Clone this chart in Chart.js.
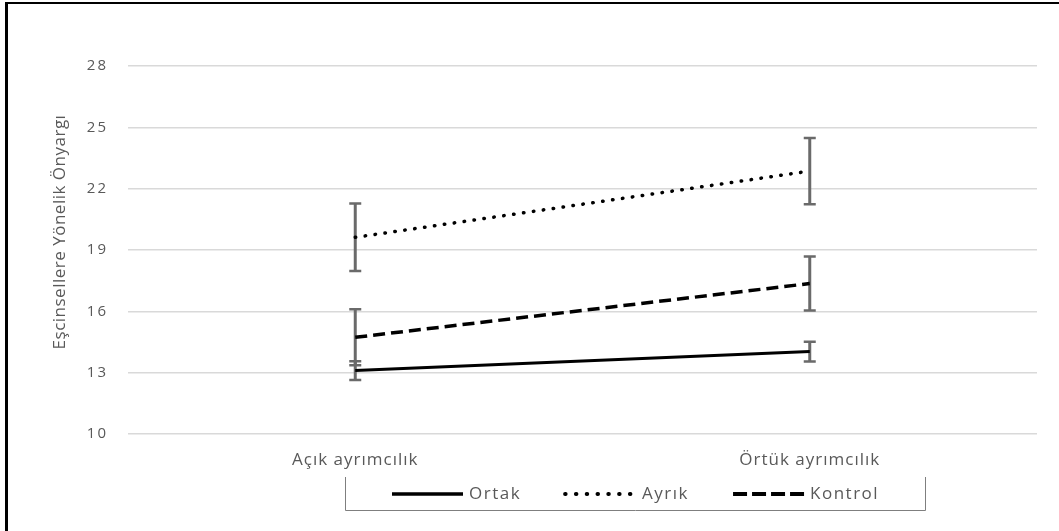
<!DOCTYPE html>
<html><head><meta charset="utf-8">
<script src="https://cdn.jsdelivr.net/npm/chart.js@4"></script>
<style>
html,body{margin:0;padding:0;background:#fff;overflow:hidden;}
#wrap{position:relative;width:1059px;height:531px;overflow:hidden;}
#frame{position:absolute;left:5px;top:2px;width:1100px;height:600px;border-left:3px solid #000;border-top:2px solid #000;pointer-events:none;}
canvas{position:absolute;left:0;top:0;}
</style></head><body>
<div id="wrap"><canvas id="c" width="1059" height="531"></canvas><div id="frame"></div></div>
<script>
const categories = ['Açık ayrımcılık', 'Örtük ayrımcılık'];
const yTicks = [10, 13, 16, 19, 22, 25, 28];
const yTitle = 'Eşcinsellere Yönelik Önyargı';
const seriesNames = ['Ortak', 'Ayrık', 'Kontrol'];
const ortak = [13.1, 14.03];
const ortakErr = [0.46, 0.48];
const ayrik = [19.62, 22.86];
const ayrikErr = [1.65, 1.62];
const kontrol = [14.73, 17.36];
const kontrolErr = [1.37, 1.32];

const FONT = "'Open Sans', 'Noto Sans', sans-serif";
const TXT = '#595959';

const errorBars = {
  id: 'errorBars',
  beforeDatasetsDraw(chart) {
    const ctx = chart.ctx, y = chart.scales.y;
    ctx.save();
    ctx.strokeStyle = '#6a6a6a';
    chart.data.datasets.forEach((ds, di) => {
      const meta = chart.getDatasetMeta(di);
      ds.errors.forEach((e, i) => {
        const x = meta.data[i].x;
        const top = y.getPixelForValue(ds.data[i] + e);
        const bot = y.getPixelForValue(ds.data[i] - e);
        ctx.lineWidth = 3;
        ctx.beginPath(); ctx.moveTo(x, top); ctx.lineTo(x, bot); ctx.stroke();
        ctx.lineWidth = 2.5;
        ctx.beginPath();
        ctx.moveTo(x - 6, top); ctx.lineTo(x + 6, top);
        ctx.moveTo(x - 6, bot); ctx.lineTo(x + 6, bot);
        ctx.stroke();
      });
    });
    ctx.restore();
  }
};

function spaced(scale, px) {
  if (scale._spaced) return;
  const orig = scale.drawLabels.bind(scale);
  scale.drawLabels = function (ca) {
    const ctx = scale.ctx;
    const prev = ctx.letterSpacing;
    ctx.letterSpacing = px;
    orig(ca);
    ctx.letterSpacing = prev || '0px';
  };
  scale._spaced = true;
}

const spacing = {
  id: 'spacing',
  afterLayout(chart) {
    spaced(chart.scales.x, '1px');
    spaced(chart.scales.y, '2px');
  }
};

const extras = {
  id: 'extras',
  afterDraw(chart) {
    const ctx = chart.ctx;
    ctx.save();
    ctx.translate(60, 232);
    ctx.rotate(-Math.PI / 2);
    ctx.fillStyle = TXT;
    ctx.font = '17px ' + FONT;
    ctx.letterSpacing = '0.5px';
    ctx.textAlign = 'center';
    ctx.textBaseline = 'middle';
    ctx.fillText(yTitle, 0, 0);
    ctx.restore();

    // legend
    ctx.save();
    ctx.strokeStyle = '#7f7f7f';
    ctx.lineWidth = 1;
    ctx.beginPath();
    ctx.moveTo(345.5, 477); ctx.lineTo(345.5, 510.5); ctx.lineTo(925.5, 510.5); ctx.lineTo(925.5, 477);
    ctx.stroke();
    ctx.font = '17px ' + FONT;
    ctx.letterSpacing = '1.5px';
    ctx.textBaseline = 'middle';
    ctx.fillStyle = TXT;
    let x = 392;
    const ly = 494;
    chart.data.datasets.forEach(ds => {
      ctx.save();
      ctx.strokeStyle = ds.borderColor;
      ctx.lineWidth = ds.borderWidth + 0.5;
      ctx.lineCap = ds.borderCapStyle || 'butt';
      ctx.setLineDash(ds.legendDash || ds.borderDash || []);
      ctx.beginPath(); ctx.moveTo(x, ly); ctx.lineTo(x + 71, ly); ctx.stroke();
      ctx.restore();
      ctx.fillText(ds.label, x + 77, ly);
      x += 77 + ctx.measureText(ds.label).width + 44;
    });
    ctx.restore();
  }
};

new Chart(document.getElementById('c'), {
  type: 'line',
  data: {
    labels: categories,
    datasets: [
      { label: seriesNames[0], data: ortak, errors: ortakErr, borderColor: '#000', borderWidth: 3, pointRadius: 0, fill: false },
      { label: seriesNames[1], data: ayrik, errors: ayrikErr, borderColor: '#000', borderWidth: 3.5, borderDash: [0.5, 9.5], legendDash: [0.5, 10.3], borderCapStyle: 'round', pointRadius: 0, fill: false },
      { label: seriesNames[2], data: kontrol, errors: kontrolErr, borderColor: '#000', borderWidth: 3.5, borderDash: [12, 6], legendDash: [14, 5], pointRadius: 0, fill: false }
    ]
  },
  options: {
    responsive: false,
    animation: false,
    devicePixelRatio: 1,
    layout: { padding: { left: 0, top: 66, right: 22, bottom: 57 } },
    plugins: { legend: { display: false }, tooltip: { enabled: false } },
    scales: {
      x: {
        type: 'category',
        offset: true,
        grid: { display: false },
        border: { display: false },
        ticks: { color: TXT, font: { family: FONT, size: 17 }, padding: 8 },
        afterFit(s) { s.height = 40; }
      },
      y: {
        min: 10, max: 28,
        afterBuildTicks(s) { s.ticks = yTicks.map(v => ({ value: v })); },
        grid: { color: '#d9d9d9', lineWidth: 1.5, drawTicks: false },
        border: { display: false },
        ticks: { color: TXT, font: { family: FONT, size: 15 }, padding: 20 },
        afterFit(s) { s.width = 128; }
      }
    }
  },
  plugins: [spacing, errorBars, extras]
});
</script>
</body></html>
